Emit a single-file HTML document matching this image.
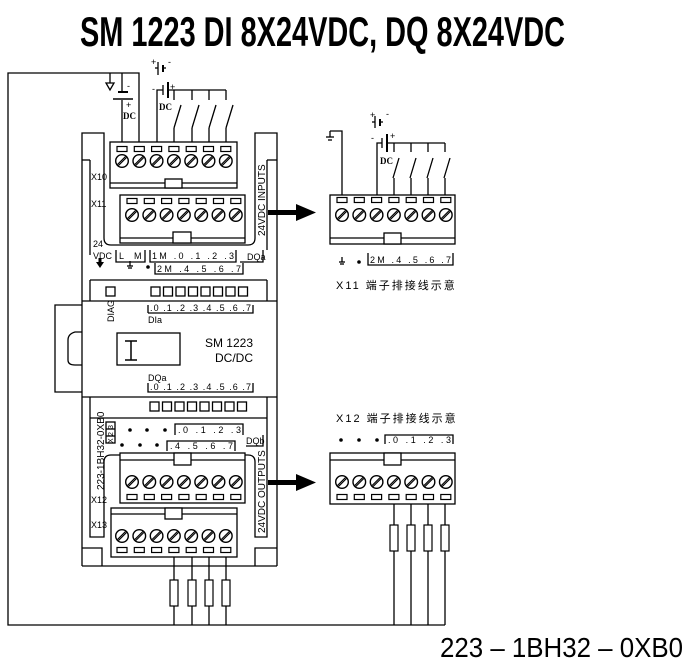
<!DOCTYPE html>
<html><head><meta charset="utf-8"><style>
html,body{margin:0;padding:0;background:#fff}
svg{display:block}
text{font-family:"Liberation Sans",sans-serif;fill:#000}
.c{font-family:"Liberation Sans","Noto Sans CJK SC",sans-serif}
</style></head><body>
<svg width="693" height="671" viewBox="0 0 693 671" xmlns="http://www.w3.org/2000/svg">
<defs>
<g id="scr" stroke="#000" fill="none"><circle r="6.3" stroke-width="1.4"/><line x1="-3.5" y1="4.5" x2="4.5" y2="-3.5" stroke-width="1.2"/><line x1="-4.5" y1="3.5" x2="3.5" y2="-4.5" stroke-width="1.2"/></g>
<rect id="sl" x="-5" y="-2.5" width="10" height="5" fill="none" stroke="#000" stroke-width="1.2"/>
<g id="row7a"><use href="#scr" x="0"/><use href="#scr" x="17.3"/><use href="#scr" x="34.6"/><use href="#scr" x="51.9"/><use href="#scr" x="69.2"/><use href="#scr" x="86.5"/><use href="#scr" x="103.8"/></g>
<g id="row7s"><use href="#sl" x="0"/><use href="#sl" x="17.3"/><use href="#sl" x="34.6"/><use href="#sl" x="51.9"/><use href="#sl" x="69.2"/><use href="#sl" x="86.5"/><use href="#sl" x="103.8"/></g>
<g id="res" fill="#fff" stroke="#000" stroke-width="1.2"><rect x="-4" y="0" width="8" height="26"/></g>
<g id="led"><rect x="0" y="0" width="9" height="9" fill="none" stroke="#000" stroke-width="1.3"/></g>
<g id="led8"><use href="#led" x="0"/><use href="#led" x="12.5"/><use href="#led" x="25"/><use href="#led" x="37.5"/><use href="#led" x="50"/><use href="#led" x="62.5"/><use href="#led" x="75"/><use href="#led" x="87.5"/></g>
</defs>

<text x="80" y="46" font-size="42" font-weight="bold" textLength="485" lengthAdjust="spacingAndGlyphs" style="font-family:'Liberation Sans Narrow','Liberation Sans',sans-serif">SM 1223  DI 8X24VDC, DQ  8X24VDC</text>

<g stroke="#000" stroke-width="1.3" fill="none">
<polyline points="139,142 139,73 8,73 8,625 445,625"/>
<line x1="122" y1="100" x2="122" y2="142"/>
<line x1="122" y1="73" x2="122" y2="92"/>
<line x1="118" y1="92" x2="128" y2="92" stroke-width="2"/>
<line x1="113" y1="99" x2="133" y2="99" stroke-width="1.5"/>
<polygon points="106,83 114,83 110,90"/>
<line x1="110" y1="73" x2="110" y2="83"/>
<line x1="155" y1="68" x2="158" y2="68"/><line x1="158" y1="62" x2="158" y2="75"/>
<line x1="163" y1="65" x2="163" y2="72" stroke-width="2"/><line x1="163" y1="68" x2="166" y2="68"/>
<polyline points="157,142 157,90 163,90"/>
<line x1="163" y1="85" x2="163" y2="95"/>
<line x1="168" y1="82" x2="168" y2="98" stroke-width="2"/>
<polyline points="168,90 226,90"/>
<line x1="174" y1="90" x2="174" y2="100"/><line x1="192" y1="90" x2="192" y2="100"/><line x1="209" y1="90" x2="209" y2="100"/><line x1="226" y1="90" x2="226" y2="100"/>
<line x1="181" y1="105" x2="174" y2="128"/><line x1="199" y1="105" x2="192" y2="128"/><line x1="216" y1="105" x2="209" y2="128"/><line x1="233" y1="105" x2="226" y2="128"/>
<line x1="174" y1="128" x2="174" y2="142"/><line x1="192" y1="128" x2="192" y2="142"/><line x1="209" y1="128" x2="209" y2="142"/><line x1="226" y1="128" x2="226" y2="142"/>

<polyline points="82,566 82,133 104,133 104,160"/>
<line x1="82" y1="160" x2="90" y2="160"/>
<polyline points="277,566 277,133 255,133 255,160"/>
<line x1="267" y1="160" x2="277" y2="160"/>
<line x1="82" y1="566" x2="277" y2="566"/>
<path d="M90,160 L90,255 M104,160 L104,238 Q104,245 111,245 L248,245 Q255,245 255,238 L255,160 M267,160 L267,250 M90,280 L267,280"/>
<line x1="82" y1="301" x2="277" y2="301"/>
<line x1="82" y1="397" x2="277" y2="397"/>
<line x1="90" y1="418" x2="267" y2="418"/>
<line x1="90" y1="280" x2="90" y2="301"/><line x1="267" y1="280" x2="267" y2="301"/>
<line x1="90" y1="397" x2="90" y2="418"/><line x1="267" y1="397" x2="267" y2="418"/>
<path d="M90,418 L90,537 L104,537 L104,462 Q104,455 111,455 L248,455 Q255,455 255,462 L255,537 L267,537 L267,418"/>
<polyline points="82,548 102,548 102,566"/><polyline points="277,548 255,548 255,566"/>
<polyline points="82,305 55,305 55,392 82,392"/>
<path d="M82,332 L75,332 Q68,334 68,340 L68,360 Q68,365 75,365 L82,365"/>
<rect x="117" y="333" width="63" height="32"/>
<path d="M125,341 L137,341 M131,341 L131,360 M125,360 L137,360" stroke-width="1.5"/>
<path d="M148,313 L148,305 M148,313 L253,313 L253,305"/>
<path d="M148,383 L148,392 L253,392 L253,383"/>
<path d="M116,250 L116,262 L145,262 L145,250 M150,250 L150,262 L236,262 L236,250 M240,262 L263,262 L263,250"/>
<path d="M155,263 L155,274 L243,274 L243,263"/>
<path d="M175,435 L175,424 L243,424 L243,435 M246,446 L263,446 L263,435"/>
<path d="M167,451 L167,441 L235,441 L235,451"/>
<rect x="106" y="422" width="9" height="21"/><line x1="106" y1="429" x2="115" y2="429"/><line x1="106" y1="436" x2="115" y2="436"/>

<rect x="110" y="142" width="127" height="46" fill="#fff"/>
<line x1="110" y1="183" x2="237" y2="183"/>
<rect x="165" y="179" width="17" height="9" fill="#fff"/>
<rect x="120" y="195" width="125" height="48" fill="#fff"/>
<line x1="120" y1="238" x2="245" y2="238"/>
<rect x="173" y="232" width="18" height="11" fill="#fff"/>
<rect x="120" y="453" width="125" height="50" fill="#fff"/>
<line x1="120" y1="460" x2="245" y2="460"/>
<rect x="174" y="453" width="17" height="12" fill="#fff"/>
<rect x="111" y="508" width="126" height="49" fill="#fff"/>
<line x1="111" y1="514" x2="237" y2="514"/>
<rect x="165" y="508" width="17" height="11" fill="#fff"/>
<line x1="174" y1="557" x2="174" y2="625"/><line x1="192" y1="557" x2="192" y2="625"/><line x1="209" y1="557" x2="209" y2="625"/><line x1="226" y1="557" x2="226" y2="625"/>

<polyline points="330,131 342,131 342,195"/>
<line x1="330" y1="131" x2="330" y2="137"/>
<line x1="326" y1="137" x2="334" y2="137"/><line x1="328" y1="140" x2="332" y2="140"/>
<line x1="372" y1="122" x2="375" y2="122"/><line x1="375" y1="116" x2="375" y2="128"/>
<line x1="380" y1="119" x2="380" y2="126" stroke-width="2"/><line x1="380" y1="122" x2="383" y2="122"/>
<polyline points="377,195 377,143 382,143"/>
<line x1="382" y1="138" x2="382" y2="148"/>
<line x1="387" y1="134" x2="387" y2="152" stroke-width="2"/>
<polyline points="387,143 445,143"/>
<line x1="394" y1="143" x2="394" y2="152"/><line x1="411" y1="143" x2="411" y2="152"/><line x1="428" y1="143" x2="428" y2="152"/><line x1="445" y1="143" x2="445" y2="152"/>
<line x1="399" y1="158" x2="393" y2="178"/><line x1="416" y1="158" x2="410" y2="178"/><line x1="433" y1="158" x2="427" y2="178"/><line x1="450" y1="158" x2="444" y2="178"/>
<line x1="394" y1="178" x2="394" y2="195"/><line x1="411" y1="178" x2="411" y2="195"/><line x1="428" y1="178" x2="428" y2="195"/><line x1="445" y1="178" x2="445" y2="195"/>
<rect x="330" y="195" width="125" height="49" fill="#fff"/>
<line x1="330" y1="238" x2="455" y2="238"/>
<rect x="384" y="233" width="17" height="11" fill="#fff"/>
<path d="M368,253 L368,265 L453,265 L453,253"/>
<line x1="339" y1="262" x2="345" y2="262"/><line x1="342" y1="257" x2="342" y2="262"/><line x1="340" y1="264" x2="344" y2="264"/>

<path d="M385,444 L385,435 L453,435 L453,444"/>
<rect x="330" y="453" width="125" height="51" fill="#fff"/>
<line x1="330" y1="460" x2="455" y2="460"/>
<rect x="384" y="453" width="17" height="12" fill="#fff"/>
<line x1="394" y1="504" x2="394" y2="625"/><line x1="411" y1="504" x2="411" y2="625"/><line x1="428" y1="504" x2="428" y2="625"/><line x1="445" y1="504" x2="445" y2="625"/>

<line x1="127" y1="266" x2="133" y2="266"/><line x1="130" y1="261" x2="130" y2="266"/><line x1="128" y1="268" x2="132" y2="268"/>
</g>

<use href="#res" x="174" y="580"/><use href="#res" x="192" y="580"/><use href="#res" x="209" y="580"/><use href="#res" x="226" y="580"/>
<use href="#res" x="394" y="525"/><use href="#res" x="411" y="525"/><use href="#res" x="428" y="525"/><use href="#res" x="445" y="525"/>

<use href="#row7s" x="122" y="149"/><use href="#row7a" x="122" y="161"/>
<use href="#row7s" x="132" y="201"/><use href="#row7a" x="132" y="215"/>
<use href="#row7a" x="132" y="482"/><use href="#row7s" x="132" y="497"/>
<use href="#row7a" x="122" y="536"/><use href="#row7s" x="122" y="550"/>
<use href="#row7s" x="342" y="200"/><use href="#row7a" x="342" y="215"/>
<use href="#row7a" x="342" y="482"/><use href="#row7s" x="342" y="497"/>

<rect x="106" y="287" width="9" height="9" fill="none" stroke="#000" stroke-width="1.3"/>
<use href="#led8" x="151" y="287"/>
<use href="#led8" x="150" y="402"/>

<rect x="268" y="210" width="30" height="5"/><polygon points="296,204 316,212.5 296,221"/>
<rect x="268" y="480" width="30" height="5"/><polygon points="296,474 316,482.5 296,491"/>
<polygon points="96,262 104,262 100,268"/><rect x="98.5" y="258" width="3" height="5"/>

<g fill="#000">
<circle cx="148" cy="267" r="1.8"/><circle cx="359" cy="262" r="1.8"/>
<circle cx="130" cy="430" r="1.8"/><circle cx="147" cy="430" r="1.8"/><circle cx="165" cy="430" r="1.8"/>
<circle cx="122" cy="445" r="1.8"/><circle cx="140" cy="445" r="1.8"/><circle cx="157" cy="445" r="1.8"/>
<circle cx="341" cy="440" r="1.8"/><circle cx="359" cy="440" r="1.8"/><circle cx="377" cy="440" r="1.8"/>
</g>

<g font-size="9">
<text x="151" y="65">+</text><text x="168" y="65">-</text>
<text x="152" y="92">-</text><text x="170" y="90">+</text>
<text x="126" y="108">+</text><text x="127" y="89">-</text>
<text x="123" y="119" font-weight="bold" style="font-family:'Liberation Serif',serif">DC</text>
<text x="159" y="110" font-weight="bold" style="font-family:'Liberation Serif',serif">DC</text>
<text x="370" y="118">+</text><text x="386" y="117">-</text>
<text x="371" y="141">-</text><text x="390" y="139">+</text>
<text x="380" y="164" font-weight="bold" style="font-family:'Liberation Serif',serif">DC</text>
<text x="91" y="180">X10</text><text x="91" y="207">X11</text>
<text x="93" y="247">24</text><text x="93" y="259">VDC</text>
<text x="119" y="259">L</text><text x="134" y="259">M</text>
<text x="152" y="259" textLength="82" lengthAdjust="spacing">1M .0 .1 .2 .3</text>
<text x="247" y="260">DQa</text>
<text x="157" y="272" textLength="84" lengthAdjust="spacing">2M .4 .5 .6 .7</text>
<text x="150" y="311" textLength="101" lengthAdjust="spacing">.0 .1 .2 .3 .4 .5 .6 .7</text>
<text x="148" y="323">DIa</text>
<text x="148" y="381">DQa</text>
<text x="150" y="390" textLength="101" lengthAdjust="spacing">.0 .1 .2 .3 .4 .5 .6 .7</text>
<text x="178" y="433" textLength="63" lengthAdjust="spacing">.0 .1 .2 .3</text>
<text x="246" y="444">DQb</text>
<text x="170" y="449" textLength="63" lengthAdjust="spacing">.4 .5 .6 .7</text>
<text x="91" y="503">X12</text><text x="91" y="528">X13</text>
<text x="370" y="263" textLength="81" lengthAdjust="spacing">2M .4 .5 .6 .7</text>
<text x="388" y="443" textLength="63" lengthAdjust="spacing">.0 .1 .2 .3</text>
<text transform="translate(114,322) rotate(-90)">DIAG</text>
<text transform="translate(104,490) rotate(-90)" font-size="10">223-1BH32-0XB0</text>
<text transform="translate(113,429) rotate(-90)" font-size="7">3</text>
<text transform="translate(113,436) rotate(-90)" font-size="7">2</text>
<text transform="translate(113,443) rotate(-90)" font-size="7">X</text>
<text transform="translate(265,236) rotate(-90)" font-size="10">24VDC INPUTS</text>
<text transform="translate(265,533) rotate(-90)" font-size="10">24VDC OUTPUTS</text>
</g>
<text x="253" y="347" font-size="12" text-anchor="end">SM 1223</text>
<text x="253" y="362" font-size="12" text-anchor="end">DC/DC</text>
<text class="c" x="336" y="289" font-size="11" letter-spacing="2">X11 端子排接线示意</text>
<text class="c" x="336" y="422" font-size="11" letter-spacing="2">X12 端子排接线示意</text>

<text x="440" y="657" font-size="28" textLength="243" lengthAdjust="spacingAndGlyphs" style="font-family:'Liberation Sans Narrow','Liberation Sans',sans-serif">223 – 1BH32 – 0XB0</text>
</svg>
</body></html>
